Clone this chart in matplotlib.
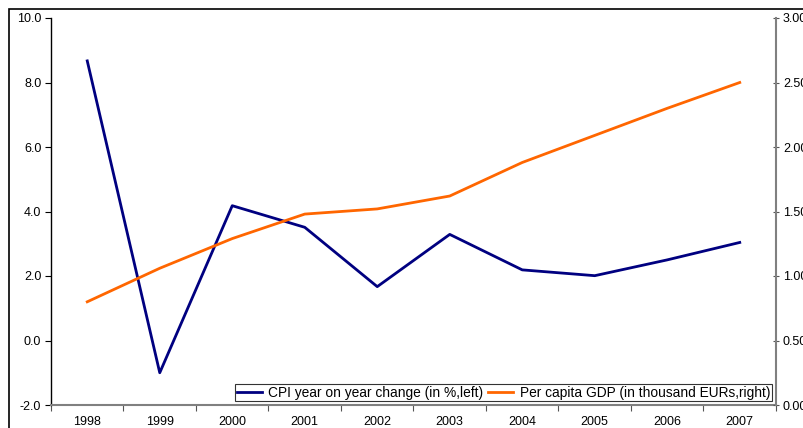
import matplotlib
matplotlib.use("Agg")
import matplotlib.pyplot as plt
from matplotlib.patches import Rectangle
from matplotlib.ticker import FixedLocator, FormatStrFormatter

plt.rcParams['font.family'] = ['Liberation Sans', 'DejaVu Sans']

years = ["1998", "1999", "2000", "2001", "2002", "2003", "2004", "2005", "2006", "2007"]
cpi_change = [8.67, -1.0, 4.18, 3.51, 1.67, 3.29, 2.19, 2.01, 2.50, 3.04]
gdp_per_capita = [0.80, 1.06, 1.29, 1.48, 1.52, 1.62, 1.88, 2.09, 2.30, 2.50]

cpi_label = "CPI year on year change (in %,left)"
gdp_label = "Per capita GDP (in thousand EURs,right)"

fig = plt.figure(figsize=(8.04, 4.28), dpi=100)
fig.patches.append(Rectangle((9 / 804, -0.1), 1.2, 1 - 9 / 428 + 0.1,
                             transform=fig.transFigure, fill=False,
                             edgecolor="#000000", linewidth=1.2))

ax = fig.add_axes([51 / 804, 23 / 428, 725 / 804, 387 / 428])
ax2 = ax.twinx()

x = list(range(len(years)))
l1, = ax.plot(x, cpi_change, color="#000080", linewidth=2.0, label=cpi_label)
l2, = ax2.plot(x, gdp_per_capita, color="#FF6600", linewidth=2.0, label=gdp_label)

ax.set_xlim(-0.5, len(years) - 0.5)
ax.set_ylim(-2.0, 10.0)
ax2.set_ylim(0.0, 3.0)

ax.yaxis.set_major_locator(FixedLocator([-2, 0, 2, 4, 6, 8, 10]))
ax.yaxis.set_major_formatter(FormatStrFormatter("%.1f"))
ax2.yaxis.set_major_locator(FixedLocator([0, 0.5, 1.0, 1.5, 2.0, 2.5, 3.0]))
ax2.yaxis.set_major_formatter(FormatStrFormatter("%.2f"))

# category boundaries carry the tick marks, centres carry the year labels
ax.xaxis.set_major_locator(FixedLocator([i - 0.5 for i in range(len(years) + 1)]))
ax.xaxis.set_major_formatter(plt.NullFormatter())
ax.set_xticks(x, labels=years, minor=True)
ax.tick_params(axis="x", which="major", length=4, width=0.8, color="#555555", direction="out")
ax.tick_params(axis="x", which="minor", length=0, pad=8, labelsize=9)
ax.tick_params(axis="y", which="major", length=4, width=0.8, direction="out",
               labelsize=9, pad=3)
ax2.tick_params(axis="y", which="major", length=4, width=0.8, direction="inout",
                labelsize=9, pad=3, color="#555555")

ax.spines["top"].set_visible(False)
ax2.spines["top"].set_visible(False)
ax.spines["right"].set_visible(False)
ax2.spines["left"].set_visible(False)
ax2.spines["bottom"].set_visible(False)
ax.spines["left"].set_color("#000000")
ax.spines["left"].set_linewidth(1.0)
ax.spines["bottom"].set_color("#808080")
ax.spines["bottom"].set_linewidth(1.5)
ax2.spines["right"].set_color("#808080")
ax2.spines["right"].set_linewidth(1.5)

leg = ax2.legend([l1, l2], [cpi_label, gdp_label], loc="lower right", ncol=2,
                 fontsize=9.9, frameon=True, fancybox=False, borderaxespad=0.3,
                 handlelength=1.8, handletextpad=0.5, columnspacing=0.35,
                 borderpad=0.1)
leg.get_frame().set_edgecolor("#000000")
leg.get_frame().set_linewidth(0.8)

fig.savefig("out.png", dpi=100)
